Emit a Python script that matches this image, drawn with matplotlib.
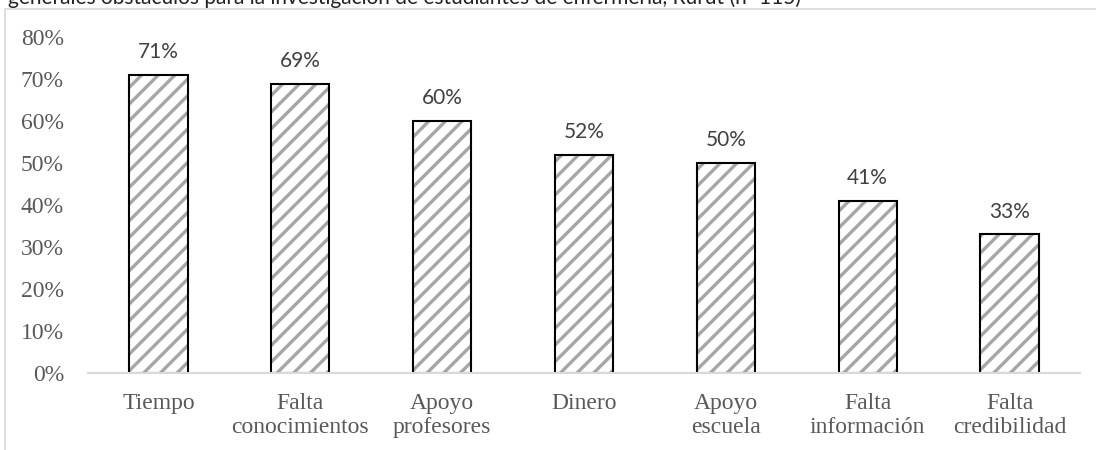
import matplotlib
matplotlib.use("Agg")
import matplotlib.pyplot as plt
from matplotlib.patches import Rectangle
from matplotlib.ticker import FuncFormatter, MultipleLocator

categories = ["Tiempo", "Falta\nconocimientos", "Apoyo\nprofesores", "Dinero",
              "Apoyo\nescuela", "Falta\ninformación", "Falta\ncredibilidad"]
values = [71, 69, 60, 52, 50, 41, 33]
title_text = "generales obstáculos para la investigación de estudiantes de enfermería, Rurut (n=115)"

plt.rcParams['hatch.linewidth'] = 2.4

fig = plt.figure(figsize=(10.96, 4.5), dpi=100)
# outer frame
fig.patches.append(Rectangle((5/1096, -0.2), 1.2, 1.2 - 9/450, transform=fig.transFigure,
                             fill=False, edgecolor='#d9d9d9', linewidth=1.2, zorder=0))
fig.text(8/1096, 1 - 4/450, title_text, ha='left', va='baseline',
         fontsize=15, color='#222222', family=['Lato', 'DejaVu Sans'])

ax = fig.add_axes([87.6/1096, 1 - 372.7/450, (1080.4 - 87.6)/1096, (372.7 - 37.5)/450])
x = list(range(len(categories)))
# hatched fill (gray stripes)
ax.bar(x, values, width=0.41, facecolor='white', edgecolor='#a6a6a6',
       linewidth=0, hatch='//', zorder=2)
# black outline
ax.bar(x, values, width=0.41, fill=False, edgecolor='black', linewidth=1.5, zorder=3)
ax.set_xlim(-0.5, len(categories) - 0.5)
ax.set_ylim(0, 80)
ax.yaxis.set_major_locator(MultipleLocator(10))
ax.yaxis.set_major_formatter(FuncFormatter(lambda v, p: f"{int(v)}%"))

for s in ['top', 'right', 'left']:
    ax.spines[s].set_visible(False)
ax.spines['bottom'].set_color('#d9d9d9')
ax.spines['bottom'].set_linewidth(1.5)
ax.spines['bottom'].set_zorder(4)

ax.set_xticks(x)
ax.set_xticklabels(categories, linespacing=1.2)
ax.tick_params(axis='both', length=0, labelcolor='#595959')
ax.tick_params(axis='y', pad=17)
ax.tick_params(axis='x', pad=14.5)
for lab in ax.get_xticklabels() + ax.get_yticklabels():
    lab.set_family(['Liberation Serif', 'DejaVu Serif'])
    lab.set_fontsize(17)

for xi, v in zip(x, values):
    ax.annotate(f"{v}%", (xi, v), xytext=(0, 16.5), textcoords='offset points',
                ha='center', va='center', fontsize=15, color='#404040',
                family=['Lato', 'DejaVu Sans'])

fig.savefig("out.png", dpi=100)
